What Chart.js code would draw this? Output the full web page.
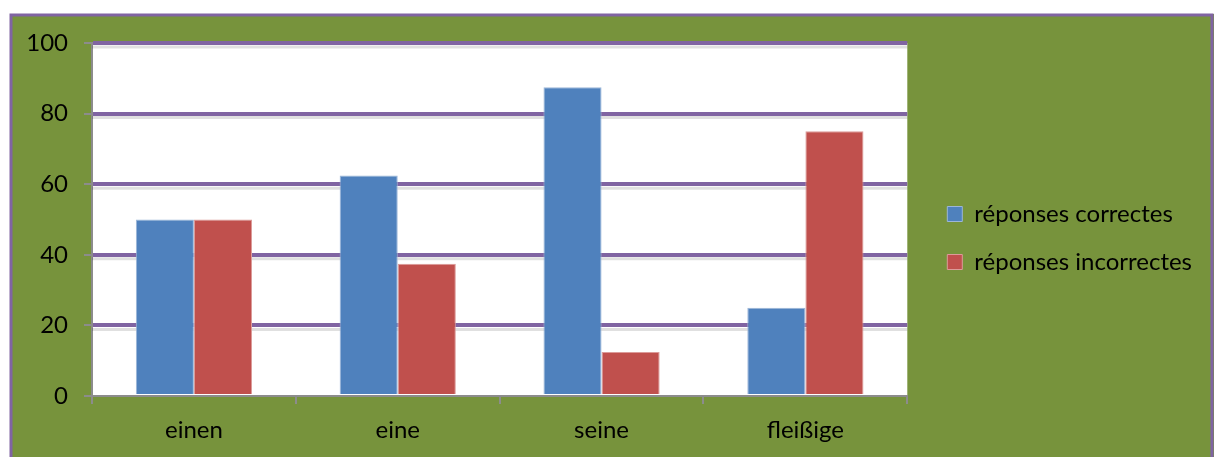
<!DOCTYPE html>
<html>
<head>
<meta charset="utf-8">
<script src="https://cdn.jsdelivr.net/npm/chart.js@4.4.1/dist/chart.umd.min.js"></script>
<style>
  html, body { margin: 0; padding: 0; background: #fff; }
  #wrap { width: 1214px; height: 457px; }
</style>
</head>
<body>
<div id="wrap"><canvas id="chart" width="1214" height="457"></canvas></div>
<script>
// data
const categories = ['einen', 'eine', 'seine', 'fleißige'];
const correct = [50, 62.5, 87.5, 25];
const incorrect = [50, 37.5, 12.5, 75];
const seriesNames = ['réponses correctes', 'réponses incorrectes'];

const green = '#77933c';
const purple = '#8064a2';
const axisGrey = '#8c8c8c';
const fontFamily = 'Lato';

// green frame and white plot area
const background = {
    id: 'background',
    beforeDraw(chart) {
        const c = chart.ctx;
        const a = chart.chartArea;
        c.save();
        c.fillStyle = '#fff';
        c.fillRect(0, 0, chart.width, chart.height);
        c.fillStyle = green;
        c.fillRect(10, 14, chart.width - 10, chart.height - 14);
        c.strokeStyle = purple;
        c.lineWidth = 3;
        c.strokeRect(11, 15, chart.width - 13, chart.height + 10);
        c.fillStyle = '#fff';
        c.fillRect(a.left, a.top, a.right - a.left, a.bottom - a.top);
        c.restore();
    },
    // soft shadow under the purple gridlines
    beforeDatasetsDraw(chart) {
        const c = chart.ctx;
        const a = chart.chartArea;
        const y = chart.scales.y;
        c.save();
        c.strokeStyle = 'rgba(0,0,0,0.12)';
        c.lineWidth = 3;
        y.ticks.forEach(t => {
            if (t.value === 0) return;
            const py = y.getPixelForValue(t.value) + 4;
            c.beginPath();
            c.moveTo(a.left, py);
            c.lineTo(a.right, py);
            c.stroke();
        });
        c.restore();
    },
    // nudge the legend to where it sits in the original
    afterLayout(chart) {
        const lg = chart.legend;
        lg.left += 16; lg.right += 16;
        lg.top -= 12; lg.bottom -= 12;
    }
};

var ctx = document.getElementById('chart').getContext('2d');

const chart = new Chart(ctx, {
    type: 'bar',
    data: {
        labels: categories,
        datasets: [{
            label: seriesNames[0],
            data: correct,
            backgroundColor: '#4f81bd',
            borderColor: '#9cb6d8',
            borderWidth: 1
        },
        {
            label: seriesNames[1],
            data: incorrect,
            backgroundColor: '#c0504d',
            borderColor: '#dc9b99',
            borderWidth: 1
        }]
    },
    options: {
        responsive: false,
        animation: false,
        layout: {
            padding: { left: 20, top: 43, right: 28, bottom: 0 }
        },
        datasets: {
            bar: {
                categoryPercentage: 0.57,
                barPercentage: 1.0
            }
        },
        plugins: {
            legend: {
                position: 'right',
                align: 'center',
                labels: {
                    font: { family: fontFamily, size: 24 },
                    color: '#000',
                    boxWidth: 15,
                    boxHeight: 15,
                    padding: 24
                }
            },
            tooltip: { enabled: false }
        },
        scales: {
            x: {
                afterFit: s => { s.height = 61; },
                grid: {
                    drawOnChartArea: false,
                    color: axisGrey,
                    tickLength: 8,
                    lineWidth: 2
                },
                border: { color: axisGrey, width: 2 },
                ticks: {
                    font: { family: fontFamily, size: 24 },
                    color: '#000',
                    padding: 12
                }
            },
            y: {
                min: 0,
                max: 100,
                afterFit: s => { s.width = 72; },
                ticks: {
                    stepSize: 20,
                    font: { family: fontFamily, size: 24 },
                    color: '#000',
                    padding: 16
                },
                grid: {
                    color: ctx => ctx.tick && ctx.tick.value === 0 ? 'rgba(0,0,0,0)' : purple,
                    lineWidth: 4,
                    tickColor: axisGrey,
                    tickWidth: 2,
                    tickLength: 8
                },
                border: { color: axisGrey, width: 2 }
            }
        }
    },
    plugins: [background]
});
</script>
</body>
</html>
